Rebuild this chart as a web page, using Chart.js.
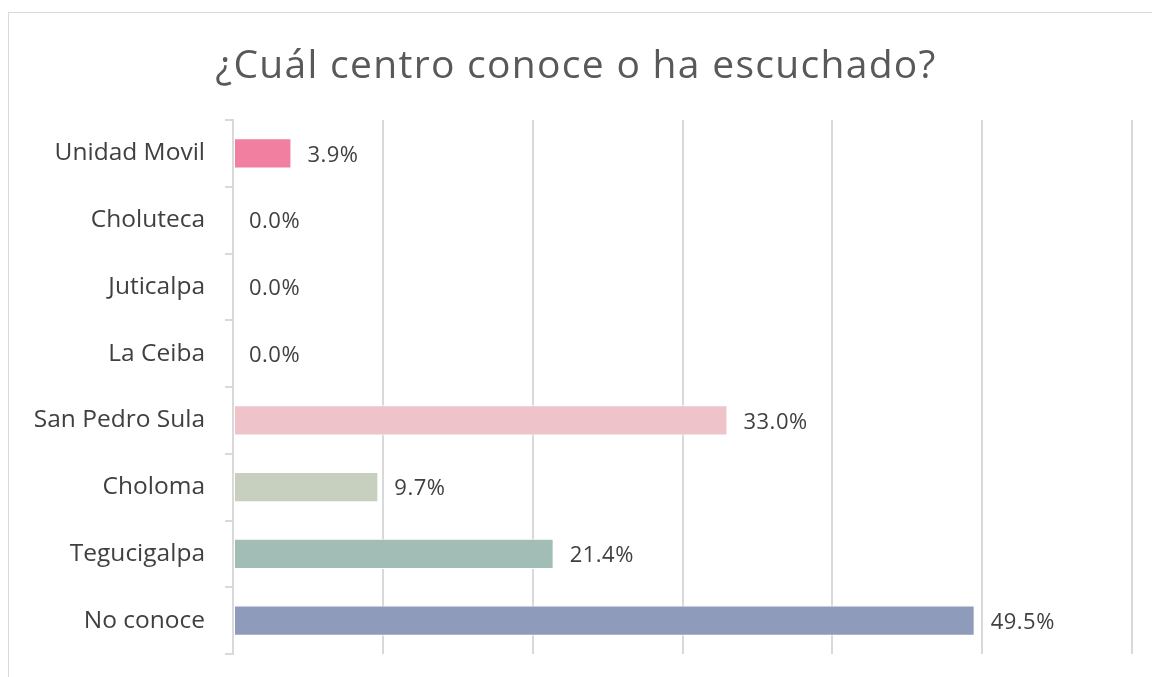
<!DOCTYPE html>
<html>
<head>
<meta charset="utf-8">
<script src="https://cdn.jsdelivr.net/npm/chart.js@4"></script>
<style>
  html, body { margin: 0; padding: 0; background: #fff; }
  #wrap { position: relative; width: 1152px; height: 677px; }
  #frame { position: absolute; left: 8px; top: 12px; width: 1200px; height: 700px; border: 1.5px solid #d9d9d9; box-sizing: border-box; }
  canvas { position: absolute; left: 0; top: 0; }
</style>
</head>
<body>
<div id="wrap">
  <div id="frame"></div>
  <canvas id="barChart" width="1152" height="677"></canvas>
</div>
<script>
// Chart data
const chartTitle = '¿Cuál centro conoce o ha escuchado?';
const categories = ['Unidad Movil', 'Choluteca', 'Juticalpa', 'La Ceiba', 'San Pedro Sula', 'Choloma', 'Tegucigalpa', 'No conoce'];
const percentValues = [3.9, 0.0, 0.0, 0.0, 33.0, 9.7, 21.4, 49.5];
const barColors = ['#f07fa0', '#e8a0b4', '#d6b8c4', '#dcc4cc', '#eec3ca', '#c7cfbf', '#a2bdb5', '#8f9bbb'];

const fontFamily = '"Open Sans", "Noto Sans", sans-serif';
const gridColor = '#d9d9d9';

// Draws the title above the plot
const titlePlugin = {
    id: 'titleText',
    afterDraw(chart) {
        const ctx = chart.ctx;
        ctx.save();
        ctx.font = '39px ' + fontFamily;
        ctx.letterSpacing = '1.3px';
        ctx.fillStyle = '#595959';
        ctx.textAlign = 'center';
        ctx.textBaseline = 'middle';
        ctx.fillText(chartTitle, 576, 67);
        ctx.restore();
    }
};

// Draws the value labels at the end of each bar
const valueLabelPlugin = {
    id: 'valueLabels',
    afterDatasetsDraw(chart) {
        const ctx = chart.ctx;
        const meta = chart.getDatasetMeta(0);
        ctx.save();
        ctx.font = '22px ' + fontFamily;
        ctx.letterSpacing = '0.5px';
        ctx.fillStyle = '#404040';
        ctx.textAlign = 'left';
        ctx.textBaseline = 'middle';
        meta.data.forEach((bar, i) => {
            ctx.fillText(percentValues[i].toFixed(1) + '%', bar.x + 16, bar.y + 2);
        });
        ctx.restore();
    }
};

new Chart(document.getElementById('barChart'), {
    type: 'bar',
    data: {
        labels: categories,
        datasets: [{
            data: percentValues,
            backgroundColor: barColors,
            borderColor: '#ffffff',
            borderWidth: 1,
            borderSkipped: false,
            barPercentage: 0.45,
            categoryPercentage: 1
        }]
    },
    options: {
        indexAxis: 'y',
        responsive: false,
        animation: false,
        layout: {
            padding: { left: 8, right: 20, top: 120, bottom: 23 }
        },
        plugins: {
            legend: { display: false },
            tooltip: { enabled: false }
        },
        scales: {
            x: {
                min: 0,
                max: 60,
                ticks: { display: false, stepSize: 10 },
                grid: { color: gridColor, lineWidth: 2, drawTicks: false },
                border: { display: false },
                afterFit(scale) { scale.height = 0; }
            },
            y: {
                grid: {
                    offset: true,
                    drawOnChartArea: false,
                    drawTicks: true,
                    tickLength: 8,
                    color: gridColor,
                    lineWidth: 2
                },
                border: { display: true, color: gridColor, width: 2 },
                ticks: {
                    color: '#404040',
                    padding: 20,
                    font: { family: fontFamily, size: 24.5 }
                },
                afterFit(scale) {
                    scale.width = 225;
                    scale.paddingTop = 0;
                    scale.paddingBottom = 0;
                }
            }
        }
    },
    plugins: [titlePlugin, valueLabelPlugin]
});
</script>
</body>
</html>
